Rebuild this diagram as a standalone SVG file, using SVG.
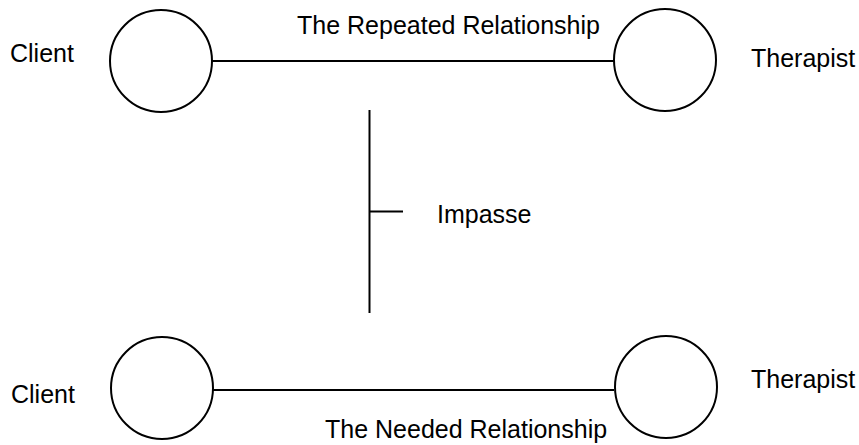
<svg xmlns="http://www.w3.org/2000/svg" width="859" height="445" viewBox="0 0 859 445">
  <style>
    .node { fill: #ffffff; stroke: #000000; stroke-width: 2; }
    .link { stroke: #000000; stroke-width: 2; fill: none; }
    text { font-family: "Liberation Sans", Arial, sans-serif; font-size: 25px; fill: #000000; }
  </style>
  <rect width="859" height="445" fill="#ffffff"/>

  <!-- connectors -->
  <g id="connectors">
    <line class="link" x1="212" y1="61" x2="614" y2="61"/>
    <line class="link" x1="213" y1="390" x2="614" y2="390"/>
    <line class="link" x1="369.5" y1="110" x2="369.5" y2="313"/>
    <line class="link" x1="369.5" y1="211.5" x2="403" y2="211.5"/>
  </g>

  <!-- repeated relationship -->
  <g id="client-top">
    <circle class="node" cx="161" cy="61" r="51"/>
    <text x="10" y="62">Client</text>
  </g>
  <g id="therapist-top">
    <circle class="node" cx="665" cy="60" r="51"/>
    <text x="751" y="67">Therapist</text>
  </g>
  <text id="label-repeated" x="297" y="34">The Repeated Relationship</text>

  <!-- impasse -->
  <text id="label-impasse" x="437" y="223">Impasse</text>

  <!-- needed relationship -->
  <g id="client-bottom">
    <circle class="node" cx="162" cy="388" r="51"/>
    <text x="11" y="403">Client</text>
  </g>
  <g id="therapist-bottom">
    <circle class="node" cx="666" cy="387" r="51"/>
    <text x="751" y="388">Therapist</text>
  </g>
  <text id="label-needed" x="325" y="438">The Needed Relationship</text>
</svg>
